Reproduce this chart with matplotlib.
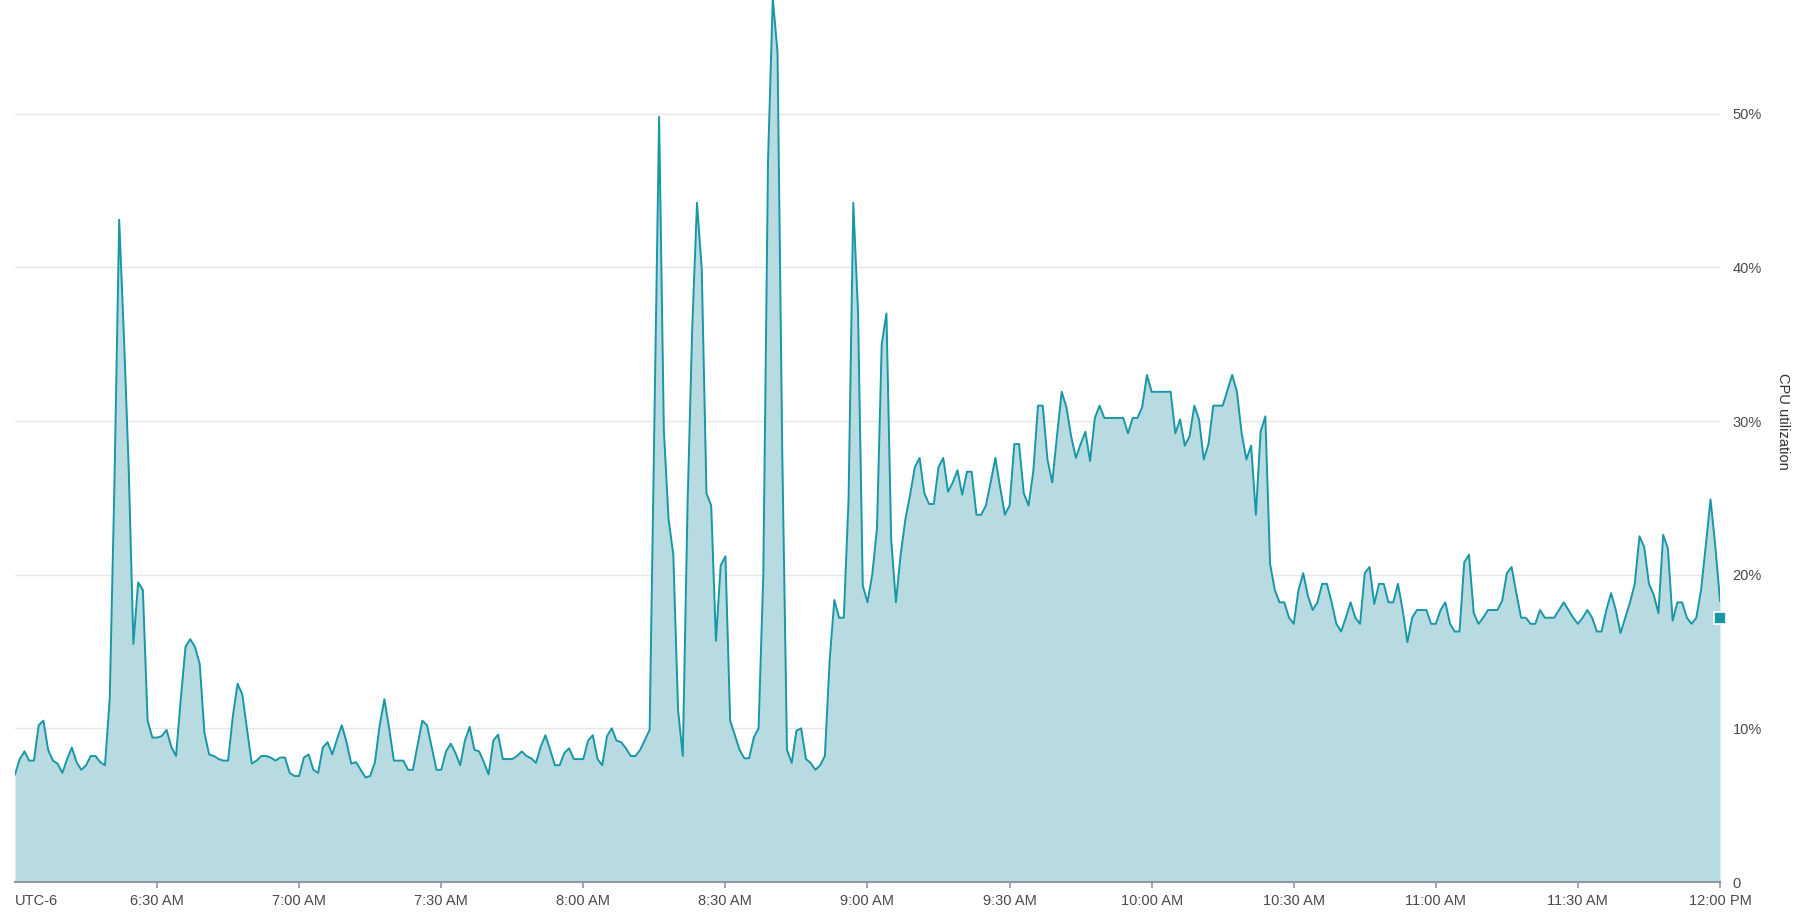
import numpy as np
import matplotlib
matplotlib.use("Agg")
import matplotlib.pyplot as plt

plt.rcParams['font.family'] = ['Liberation Sans', 'DejaVu Sans']

# CPU utilization (%), one sample per minute from 6:00 AM to 12:00 PM (UTC-6)
cpu = [
    7.0, 8.0, 8.5, 7.9, 7.9, 10.2, 10.5, 8.6, 7.9, 7.7,        # 6:00
    7.1, 8.0, 8.75, 7.8, 7.3, 7.6, 8.2, 8.2, 7.8, 7.6,        # 6:10
    11.9, 26.0, 43.1, 35.5, 27.0, 15.5, 19.5, 19.0, 10.5, 9.4,  # 6:20
    9.4, 9.5, 9.9, 8.8, 8.2, 11.9, 15.3, 15.8, 15.3, 14.2,    # 6:30
    9.7, 8.3, 8.2, 8.0, 7.9, 7.9, 10.8, 12.9, 12.2, 9.9,      # 6:40
    7.7, 7.9, 8.2, 8.2, 8.1, 7.9, 8.1, 8.1, 7.1, 6.9,         # 6:50
    6.9, 8.1, 8.3, 7.3, 7.1, 8.75, 9.1, 8.3, 9.3, 10.2,       # 7:00
    9.1, 7.7, 7.8, 7.3, 6.8, 6.9, 7.8, 10.2, 11.9, 10.0,      # 7:10
    7.9, 7.9, 7.9, 7.3, 7.3, 8.9, 10.5, 10.2, 8.75, 7.3,      # 7:20
    7.3, 8.5, 9.0, 8.4, 7.6, 9.2, 10.1, 8.6, 8.5, 7.8,        # 7:30
    7.0, 9.2, 9.6, 8.0, 8.0, 8.0, 8.2, 8.5, 8.2, 8.05,        # 7:40
    7.75, 8.8, 9.55, 8.6, 7.6, 7.6, 8.4, 8.7, 8.0, 8.0,       # 7:50
    8.0, 9.2, 9.55, 8.0, 7.6, 9.5, 10.0, 9.2, 9.1, 8.7,       # 8:00
    8.2, 8.2, 8.6, 9.25, 9.9, 30.0, 49.8, 29.4, 23.6, 21.3,   # 8:10
    11.2, 8.2, 24.5, 36.1, 44.2, 39.9, 25.3, 24.5, 15.7, 20.6, # 8:20
    21.2, 10.5, 9.55, 8.6, 8.05, 8.05, 9.4, 10.0, 20.0, 47.0,  # 8:30
    57.5, 54.0, 28.0, 8.6, 7.75, 9.85, 10.0, 8.0, 7.75, 7.3,   # 8:40
    7.6, 8.2, 14.4, 18.35, 17.2, 17.2, 24.9, 44.2, 37.1, 19.3, # 8:50
    18.2, 20.0, 23.0, 35.0, 37.0, 22.3, 18.2, 21.3, 23.6, 25.2, # 9:00
    27.0, 27.6, 25.3, 24.6, 24.6, 27.0, 27.6, 25.4, 26.0, 26.8, # 9:10
    25.2, 26.7, 26.7, 23.9, 23.9, 24.5, 26.0, 27.6, 25.7, 23.9, # 9:20
    24.5, 28.5, 28.5, 25.3, 24.5, 26.7, 31.0, 31.0, 27.5, 26.0, # 9:30
    29.0, 31.9, 30.9, 29.0, 27.6, 28.5, 29.3, 27.4, 30.2, 31.0, # 9:40
    30.2, 30.2, 30.2, 30.2, 30.2, 29.2, 30.2, 30.2, 30.9, 33.0, # 9:50
    31.9, 31.9, 31.9, 31.9, 31.9, 29.2, 30.1, 28.4, 29.0, 31.0, # 10:00
    30.1, 27.5, 28.5, 31.0, 31.0, 31.0, 32.0, 33.0, 31.9, 29.2, # 10:10
    27.5, 28.4, 23.9, 29.3, 30.3, 20.7, 19.0, 18.2, 18.2, 17.2, # 10:20
    16.8, 19.0, 20.1, 18.6, 17.7, 18.2, 19.4, 19.4, 18.2, 16.8, # 10:30
    16.3, 17.2, 18.2, 17.2, 16.8, 20.1, 20.5, 18.1, 19.4, 19.4, # 10:40
    18.2, 18.2, 19.4, 17.7, 15.6, 17.2, 17.7, 17.7, 17.7, 16.8, # 10:50
    16.8, 17.7, 18.2, 16.8, 16.3, 16.3, 20.8, 21.3, 17.5, 16.8, # 11:00
    17.2, 17.7, 17.7, 17.7, 18.3, 20.1, 20.5, 18.8, 17.2, 17.2, # 11:10
    16.8, 16.8, 17.7, 17.2, 17.2, 17.2, 17.7, 18.2, 17.7, 17.2, # 11:20
    16.8, 17.2, 17.7, 17.2, 16.3, 16.3, 17.7, 18.8, 17.7, 16.2, # 11:30
    17.2, 18.2, 19.4, 22.5, 21.8, 19.4, 18.7, 17.5, 22.6, 21.7, # 11:40
    17.0, 18.2, 18.2, 17.2, 16.8, 17.2, 19.0, 21.9, 24.9, 21.9, # 11:50
    18.3,                                                      # 12:00
]
last_value = 17.2

tick_minutes = [30, 60, 90, 120, 150, 180, 210, 240, 270, 300, 330, 360]
tick_labels = ["6:30 AM", "7:00 AM", "7:30 AM", "8:00 AM", "8:30 AM", "9:00 AM",
               "9:30 AM", "10:00 AM", "10:30 AM", "11:00 AM", "11:30 AM", "12:00 PM"]
y_ticks = [0, 10, 20, 30, 40, 50]
y_labels = ["0", "10%", "20%", "30%", "40%", "50%"]

minutes = np.arange(len(cpu))

line_color = "#1897a6"
fill_color = "#b8dbe2"
axis_color = "#8c9aa3"
text_color = "#4a4a4a"

fig = plt.figure(figsize=(18, 9.19), dpi=100)
ax = fig.add_axes([15 / 1800, 37 / 919, 1705 / 1800, 882 / 919])

ax.fill_between(minutes, cpu, color=fill_color, lw=0, zorder=2)
ax.plot(minutes, cpu, color=line_color, lw=1.4, zorder=3)
ax.plot(minutes[-1], last_value, marker="s", ms=9, mfc=line_color, mec="white",
        mew=1.2, clip_on=False, zorder=4)

ax.set_xlim(0, 360)
ax.set_ylim(0, 57.4)

for s in ["top", "left", "right"]:
    ax.spines[s].set_visible(False)
ax.spines["bottom"].set_color(axis_color)
ax.spines["bottom"].set_linewidth(1.5)
ax.spines["bottom"].set_zorder(5)

ax.set_xticks(tick_minutes)
ax.set_xticklabels(tick_labels)
ax.tick_params(axis="x", direction="out", length=4.5, width=1.2, color=axis_color,
               labelsize=10.5, labelcolor=text_color, pad=4)

ax.yaxis.tick_right()
ax.set_yticks(y_ticks)
ax.set_yticklabels(y_labels)
ax.tick_params(axis="y", length=0, labelsize=10.5, labelcolor=text_color, pad=9)
ax.grid(axis="y", color="#e6e6e6", lw=1, zorder=1)
ax.set_axisbelow(True)

ax.annotate("UTC-6", xy=(0, 0), xycoords=("data", "axes fraction"),
            xytext=(0, -8.5), textcoords="offset points", ha="left", va="top",
            fontsize=10.5, color=text_color)

fig.text(1783 / 1800, 1 - 421 / 919, "CPU utilization", rotation=-90,
         ha="center", va="center", fontsize=10.5, color="#333333")

fig.savefig("out.png", dpi=100)
